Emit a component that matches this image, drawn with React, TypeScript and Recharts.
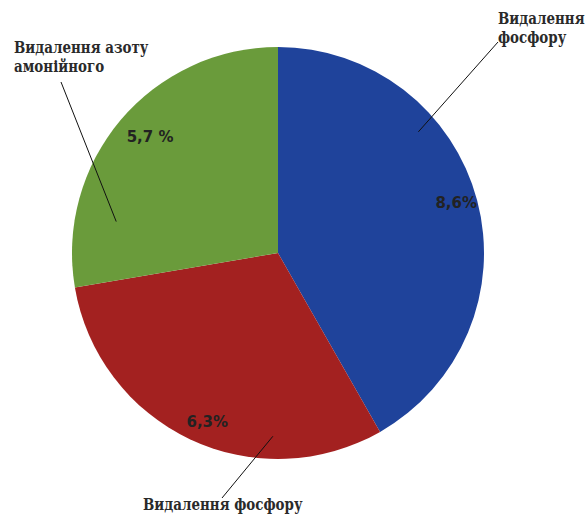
import React from "react"
import { PieChart, Pie, Cell } from "recharts"

const NAMES = ["Видалення фосфору", "Видалення фосфору", "Видалення азоту амонійного"]
const VALUES = [8.6, 6.3, 5.7]
const VALUE_LABELS = ["8,6%", "6,3%", "5,7 %"]
const NAME_LINES = [["Видалення", "фосфору"], ["Видалення фосфору"], ["Видалення азоту", "амонійного"]]

const COLORS = ["#1f439b", "#a32120", "#6a9b3b"]

// label layout per slice: leader anchor on the slice (angle deg, radius frac),
// leader end and text start relative to the centre, nudges for the % text
const LAYOUT = [
  { angle: 40.8, r: 0.9, end: [220, -211], text: [220, -229], nudge: [5, -4] },
  { angle: -91.6, r: 0.89, end: [-56, 245], text: [-135, 257], nudge: [6, 7] },
  { angle: 169, r: 0.8, end: [-217, -171], text: [-264, -200], nudge: [9, 0] },
]
// DejaVu Serif is wider than the Times-like face of the original
const NAME_SQUEEZE = 0.84

const data = NAMES.map((n, i) => ({ name: n, value: VALUES[i] }))
const RAD = Math.PI / 180

function renderLabel(props: any) {
  const { cx, cy, midAngle, outerRadius, index } = props
  const l = LAYOUT[index]
  const pr = outerRadius * 0.87
  const px = cx + pr * Math.cos(-midAngle * RAD) + l.nudge[0]
  const py = cy + pr * Math.sin(-midAngle * RAD) + l.nudge[1]
  const ax = cx + outerRadius * l.r * Math.cos(-l.angle * RAD)
  const ay = cy + outerRadius * l.r * Math.sin(-l.angle * RAD)
  const tx = cx + l.text[0]
  return (
    <g key={`lbl-${index}`}>
      <text x={px} y={py} textAnchor="middle" dominantBaseline="central" fontFamily="DejaVu Sans" fontWeight="bold" fontSize={15} fill="#222">
        {VALUE_LABELS[index]}
      </text>
      <line x1={ax} y1={ay} x2={cx + l.end[0]} y2={cy + l.end[1]} stroke="#111" strokeWidth={1} />
      {NAME_LINES[index].map((s, k) => (
        <text
          key={k}
          x={0}
          y={0}
          transform={`translate(${tx},${cy + l.text[1] + k * 19}) scale(${NAME_SQUEEZE},1)`}
          textAnchor="start"
          fontFamily="DejaVu Serif"
          fontWeight="bold"
          fontSize={16}
          fill="#2a2a2a"
        >
          {s}
        </text>
      ))}
    </g>
  )
}

export default function App() {
  return (
    <div style={{ position: "absolute", left: 0, top: 0, width: 587, height: 517, background: "#fff" }}>
      <PieChart width={587} height={517} margin={{ top: 0, right: 0, bottom: 0, left: 0 }}>
        <Pie
          data={data}
          dataKey="value"
          nameKey="name"
          cx={278}
          cy={253}
          outerRadius={206}
          startAngle={90}
          endAngle={-270}
          stroke="none"
          label={renderLabel}
          labelLine={false}
          isAnimationActive={false}
        >
          {data.map((entry, index) => (
            <Cell key={`cell-${index}`} fill={COLORS[index % COLORS.length]} />
          ))}
        </Pie>
      </PieChart>
    </div>
  )
}
